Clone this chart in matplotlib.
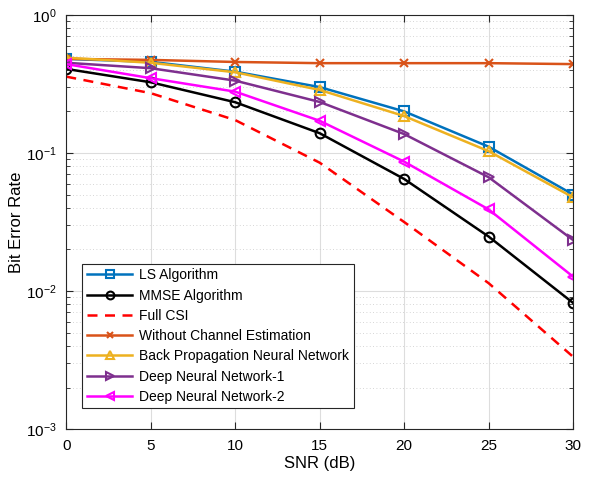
import matplotlib
matplotlib.use('Agg')
import matplotlib.pyplot as plt
from matplotlib.ticker import LogLocator, NullFormatter

plt.rcParams['font.family'] = ['Liberation Sans', 'DejaVu Sans']
plt.rcParams['mathtext.fontset'] = 'custom'
plt.rcParams['mathtext.rm'] = 'Liberation Sans'

snr = [0, 5, 10, 15, 20, 25, 30]

ber_ls = [0.48, 0.457, 0.388, 0.30, 0.20, 0.111, 0.050]
ber_mmse = [0.406, 0.325, 0.233, 0.139, 0.0648, 0.0248, 0.0082]
ber_full = [0.357, 0.271, 0.173, 0.085, 0.0316, 0.0114, 0.00334]
ber_without = [0.48, 0.472, 0.456, 0.447, 0.447, 0.447, 0.44]
ber_bpnn = [0.49, 0.45, 0.384, 0.286, 0.185, 0.103, 0.0477]
ber_dnn1 = [0.45, 0.411, 0.334, 0.234, 0.137, 0.0667, 0.0234]
ber_dnn2 = [0.44, 0.348, 0.278, 0.171, 0.0865, 0.039, 0.0127]

labels = ['LS Algorithm', 'MMSE Algorithm', 'Full CSI', 'Without Channel Estimation',
          'Back Propagation Neural Network', 'Deep Neural Network-1', 'Deep Neural Network-2']

fig = plt.figure(figsize=(5.97, 4.8), dpi=100)
ax = fig.add_axes([0.111, 0.106, 0.849, 0.863])

lw = 1.8
mk = dict(markersize=7, markerfacecolor='none', markeredgewidth=1.5)
ax.semilogy(snr, ber_ls, '-s', color='#0072BD', lw=lw, label=labels[0], **mk)
ax.semilogy(snr, ber_mmse, '-o', color='k', lw=lw, label=labels[1], **mk)
ax.semilogy(snr, ber_full, '--', color='r', lw=lw, dashes=(4, 3), label=labels[2])
ax.semilogy(snr, ber_without, '-x', color='#D95319', lw=lw, label=labels[3],
            markersize=6, markeredgewidth=1.5)
ax.semilogy(snr, ber_bpnn, '-^', color='#EDB120', lw=lw, label=labels[4], **mk)
ax.semilogy(snr, ber_dnn1, '->', color='#7E2F8E', lw=lw, label=labels[5], **mk)
ax.semilogy(snr, ber_dnn2, '-<', color='#FF00FF', lw=lw, label=labels[6], **mk)

ax.set_xlim(0, 30)
ax.set_ylim(1e-3, 1)
ax.set_xticks(snr)
ax.yaxis.set_major_locator(LogLocator(base=10, numticks=10))
ax.yaxis.set_minor_locator(LogLocator(base=10, subs=range(2, 10), numticks=20))
ax.yaxis.set_minor_formatter(NullFormatter())
ax.tick_params(which='both', direction='in', top=True, right=True, labelsize=11,
               color='#262626', pad=7)
ax.tick_params(which='major', length=5)
ax.tick_params(which='minor', length=3)
ax.grid(True, which='major', color='#dddddd', lw=0.8)
ax.grid(True, which='minor', color='#c8c8c8', lw=0.6, ls=(0, (1, 3)))
for s in ax.spines.values():
    s.set_color('#262626')
    s.set_linewidth(0.8)

ax.set_xlabel('SNR (dB)', fontsize=12, labelpad=2)
ax.set_ylabel('Bit Error Rate', fontsize=12, labelpad=1)

leg = ax.legend(loc='lower left', bbox_to_anchor=(0.032, 0.051), fontsize=10,
                fancybox=False, edgecolor='#262626', framealpha=1,
                handlelength=3.3, handletextpad=0.5, borderpad=0.3,
                labelspacing=0.45, borderaxespad=0, markerscale=0.8)
leg.get_frame().set_linewidth(0.8)

fig.savefig('out.png', dpi=100)
